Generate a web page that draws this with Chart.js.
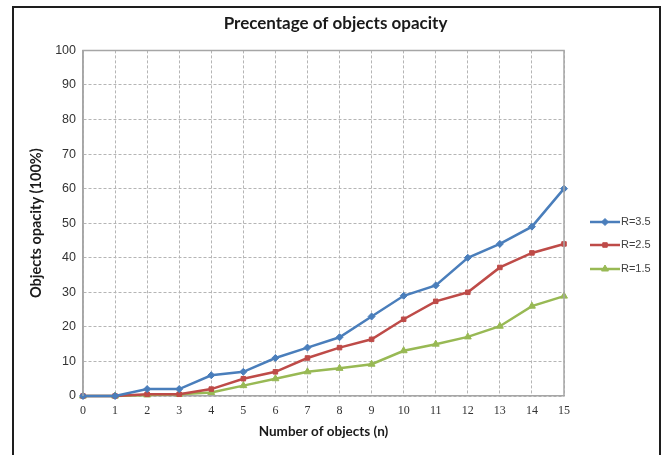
<!DOCTYPE html>
<html lang="en">
<head>
    <meta charset="UTF-8">
    <title>Precentage of objects opacity</title>
    <style>
        html, body {
            margin: 0;
            padding: 0;
            background: #ffffff;
            overflow: hidden;
        }
        #frame {
            position: absolute;
            left: 12px;
            top: 6px;
            width: 645px;
            height: 470px;
            border: 2px solid #1e1e1e;
        }
        canvas {
            position: absolute;
            left: 0;
            top: 0;
        }
    </style>
    <script src="https://cdn.jsdelivr.net/npm/chart.js"></script>
</head>
<body>
<div id="frame"></div>
<canvas id="opacityChart" width="663" height="455"></canvas>

<script>
    // number of objects (n)
    var objectCounts = ['0', '1', '2', '3', '4', '5', '6', '7', '8', '9', '10', '11', '12', '13', '14', '15'];
    var seriesNames = ['R=3.5', 'R=2.5', 'R=1.5'];

    // opacity values
    var opacityR35 = [0, 0, 2, 2, 6, 7, 11, 14, 17, 23, 29, 32, 40, 44, 49, 60];
    var opacityR25 = [0, 0, 0.5, 0.5, 2, 5, 7, 11, 14, 16.4, 22.2, 27.4, 30, 37.2, 41.4, 44];
    var opacityR15 = [0, 0, 0.3, 0.5, 1, 3, 5, 7, 8, 9.2, 13.1, 15, 17.1, 20.2, 26, 28.9];

    var yTicks = [0, 10, 20, 30, 40, 50, 60, 70, 80, 90, 100];

    var colors = ['#4a7ebb', '#be4b48', '#98b954'];
    var markers = ['rectRot', 'rect', 'triangle'];
    var markerSizes = [3.5, 3.2, 4];

    // gray frame round the plot area
    var plotFrame = {
        id: 'plotFrame',
        afterDatasetsDraw: function (chart) {
            var a = chart.chartArea;
            var ctx = chart.ctx;
            ctx.save();
            ctx.strokeStyle = '#a6a6a6';
            ctx.lineWidth = 1.5;
            ctx.beginPath();
            ctx.moveTo(a.left, a.bottom);
            ctx.lineTo(a.left, a.top);
            ctx.lineTo(a.right, a.top);
            ctx.lineTo(a.right, a.bottom);
            ctx.stroke();
            ctx.restore();
        }
    };

    // legend drawn like Excel: short line with the marker in the middle
    var lineLegend = {
        id: 'lineLegend',
        afterDraw: function (chart) {
            var ctx = chart.ctx;
            var x0 = 590, x1 = 620;
            var ys = [222, 245, 269];
            ctx.save();
            chart.data.datasets.forEach(function (ds, i) {
                var y = ys[i];
                ctx.strokeStyle = ds.borderColor;
                ctx.lineWidth = 2.5;
                ctx.beginPath();
                ctx.moveTo(x0, y);
                ctx.lineTo(x1, y);
                ctx.stroke();
                ctx.fillStyle = ds.borderColor;
                ctx.strokeStyle = ds.borderColor;
                ctx.lineWidth = 1;
                Chart.helpers.drawPoint(ctx, {
                    pointStyle: ds.pointStyle,
                    radius: ds.pointRadius,
                    borderWidth: 1
                }, (x0 + x1) / 2, y);
                ctx.fillStyle = '#404040';
                ctx.font = '11px "Liberation Sans Narrow", "Liberation Sans", Arial, sans-serif';
                ctx.textAlign = 'left';
                ctx.textBaseline = 'middle';
                ctx.fillText(ds.label, x1 + 1, y);
            });
            ctx.restore();
        }
    };

    var allSeries = [opacityR35, opacityR25, opacityR15];
    var datasets = allSeries.map(function (values, i) {
        return {
            label: seriesNames[i],
            data: values,
            borderColor: colors[i],
            backgroundColor: colors[i],
            borderWidth: 2.5,
            pointStyle: markers[i],
            pointRadius: markerSizes[i],
            pointHoverRadius: markerSizes[i],
            pointBorderWidth: 1,
            tension: 0,
            clip: false
        };
    });

    var ctx = document.getElementById('opacityChart').getContext('2d');
    var opacityChart = new Chart(ctx, {
        type: 'line',
        data: {
            labels: objectCounts,
            datasets: datasets
        },
        options: {
            responsive: false,
            animation: false,
            layout: {
                padding: { left: 8, right: 0, top: 0, bottom: 0 }
            },
            plugins: {
                legend: { display: false },
                tooltip: { enabled: false },
                title: {
                    display: true,
                    text: 'Precentage of objects opacity',
                    color: '#1a1a1a',
                    font: { family: 'Lato, "Open Sans", sans-serif', size: 17, weight: 'bold' },
                    padding: { top: 13, bottom: 17 }
                }
            },
            scales: {
                x: {
                    type: 'category',
                    offset: false,
                    grid: {
                        color: '#b5b5b5',
                        lineWidth: 1,
                        drawTicks: false
                    },
                    border: { display: true, color: '#a6a6a6', width: 1.5, dash: [3, 2] },
                    ticks: {
                        color: '#333333',
                        padding: 8,
                        maxRotation: 0,
                        autoSkip: false,
                        font: { family: '"Liberation Serif", "Times New Roman", serif', size: 12 }
                    },
                    title: {
                        display: true,
                        text: 'Number of objects (n)',
                        color: '#1a1a1a',
                        font: { family: 'Lato, "Open Sans", sans-serif', size: 13.5, weight: 'bold' },
                        padding: { top: 0, bottom: 15 }
                    },
                    afterFit: function (scale) {
                        scale.height = 59;
                    }
                },
                y: {
                    min: 0,
                    max: 100,
                    afterBuildTicks: function (scale) {
                        scale.ticks = yTicks.map(function (v) { return { value: v }; });
                    },
                    grid: {
                        color: '#b5b5b5',
                        lineWidth: 1,
                        drawTicks: false
                    },
                    border: { display: true, color: '#a6a6a6', width: 1.5, dash: [3, 2] },
                    ticks: {
                        color: '#333333',
                        padding: 7,
                        font: { family: '"Liberation Sans Narrow", "Liberation Sans", Arial, sans-serif', size: 12.5 }
                    },
                    title: {
                        display: true,
                        text: 'Objects opacity (100%)',
                        color: '#1a1a1a',
                        font: { family: 'Lato, "Open Sans", sans-serif', size: 14.5, weight: 'bold' },
                        padding: { top: 20, bottom: 0 }
                    },
                    afterFit: function (scale) {
                        scale.width = 75;
                    }
                },
                // empty right-hand axis that only keeps room for the legend
                legendRoom: {
                    position: 'right',
                    display: true,
                    grid: { display: false, drawTicks: false },
                    border: { display: false },
                    ticks: { display: false },
                    afterFit: function (scale) {
                        scale.width = 99;
                    }
                }
            }
        },
        plugins: [plotFrame, lineLegend]
    });
</script>

</body>
</html>
